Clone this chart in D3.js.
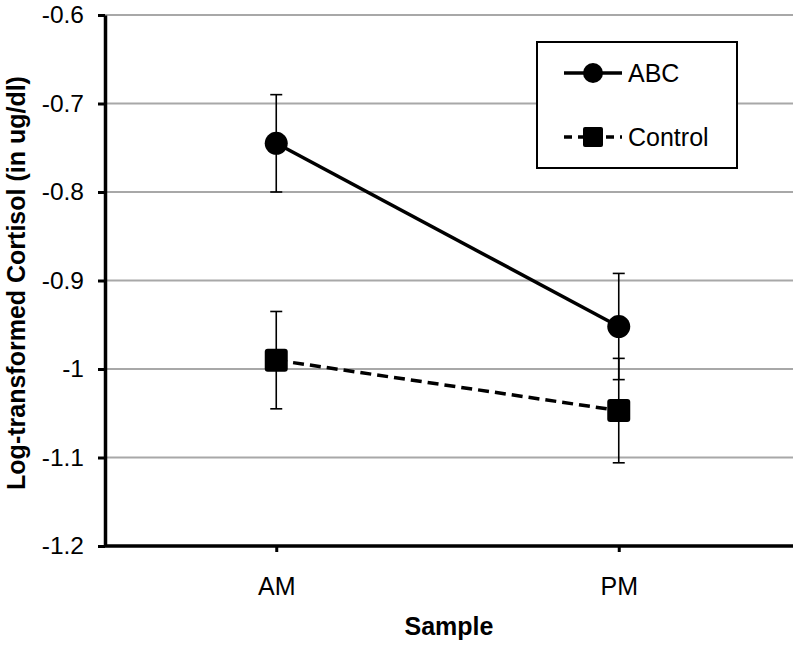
<!DOCTYPE html>
<html><head><meta charset="utf-8">
<script src="https://cdn.jsdelivr.net/npm/d3@7"></script>
<style>body{margin:0;background:#fff}svg{display:block}text{font-family:"Liberation Sans",Arial,sans-serif}</style>
</head><body>
<svg id="c" width="800" height="648"></svg>
<script>
const categories = ["AM", "PM"];
const abcMean = [-0.745, -0.952];
const abcErr = [0.055, 0.060];
const controlMean = [-0.990, -1.047];
const controlErr = [0.055, 0.059];
const yTicks = [-1.2, -1.1, -1.0, -0.9, -0.8, -0.7, -0.6];
const yTickLabels = ["-1.2", "-1.1", "-1", "-0.9", "-0.8", "-0.7", "-0.6"];
const seriesNames = ["ABC", "Control"];

const svg = d3.select("#c");
const L = 105, R = 790, T = 15, B = 546;
const x = d3.scalePoint().domain(categories).range([L, R]).padding(0.5);
const y = d3.scaleLinear().domain([-1.2, -0.6]).range([B, T]);

// gridlines
svg.append("g").selectAll("line").data(yTicks.filter(v => v > -1.2)).join("line")
  .attr("x1", L).attr("x2", R + 3).attr("y1", d => y(d)).attr("y2", d => y(d))
  .attr("stroke", "#a8a8a8").attr("stroke-width", 2);

// y axis
const ya = svg.append("g").attr("transform", `translate(${L},0)`)
  .call(d3.axisLeft(y).tickValues(yTicks).tickFormat((d, i) => yTickLabels[i]).tickSize(7).tickPadding(14).tickSizeOuter(0));
ya.select(".domain").attr("stroke-width", 3.5);
ya.selectAll(".tick line").attr("stroke-width", 3);
ya.selectAll("text").attr("font-size", 24.5).attr("fill", "#000");

// x axis
const xa = svg.append("g").attr("transform", `translate(0,${B})`)
  .call(d3.axisBottom(x).tickSize(6).tickPadding(25).tickSizeOuter(0));
xa.select(".domain").attr("d", `M${L},0H${R + 3}`).attr("stroke-width", 3.5);
xa.selectAll(".tick line").attr("stroke-width", 3);
xa.selectAll("text").attr("font-size", 25).attr("fill", "#000");

// axis titles
svg.append("text").attr("x", 449).attr("y", 635).attr("text-anchor", "middle")
  .attr("font-size", 25).attr("font-weight", "bold").text("Sample");
svg.append("text").attr("transform", "translate(25,283) rotate(-90)").attr("text-anchor", "middle")
  .attr("font-size", 25).attr("font-weight", "bold").text("Log-transformed Cortisol (in ug/dl)");

const series = [
  {mean: abcMean, err: abcErr, dash: null, shape: "circle"},
  {mean: controlMean, err: controlErr, dash: "11,6", shape: "square"}
];

// error bars
series.forEach(s => {
  const g = svg.append("g");
  categories.forEach((c, i) => {
    const cx = x(c), y1 = y(s.mean[i] + s.err[i]), y2 = y(s.mean[i] - s.err[i]);
    g.append("line").attr("x1", cx).attr("x2", cx).attr("y1", y1).attr("y2", y2).attr("stroke", "#000").attr("stroke-width", 1.6);
    [y1, y2].forEach(yy => g.append("line").attr("x1", cx - 6).attr("x2", cx + 6).attr("y1", yy).attr("y2", yy).attr("stroke", "#000").attr("stroke-width", 1.6));
  });
});

// lines and markers
const line = d3.line().x((d, i) => x(categories[i])).y(d => y(d));
series.forEach(s => {
  svg.append("path").attr("d", line(s.mean)).attr("fill", "none").attr("stroke", "#000")
    .attr("stroke-width", 3.5).attr("stroke-dasharray", s.dash);
  s.mean.forEach((v, i) => {
    if (s.shape === "circle") {
      svg.append("circle").attr("cx", x(categories[i])).attr("cy", y(v)).attr("r", 11.5).attr("fill", "#000");
    } else {
      svg.append("rect").attr("x", x(categories[i]) - 11.5).attr("y", y(v) - 11.5).attr("width", 23).attr("height", 23)
        .attr("rx", 3).attr("fill", "#000");
    }
  });
});

// legend
const lg = svg.append("g");
lg.append("rect").attr("x", 537).attr("y", 42).attr("width", 200).attr("height", 126)
  .attr("fill", "#fff").attr("stroke", "#000").attr("stroke-width", 2);
const rows = [73, 137];
series.forEach((s, i) => {
  const yy = rows[i];
  lg.append("line").attr("x1", 564).attr("x2", 622).attr("y1", yy).attr("y2", yy)
    .attr("stroke", "#000").attr("stroke-width", 3.5).attr("stroke-dasharray", s.dash ? "8,6" : null);
  if (s.shape === "circle") lg.append("circle").attr("cx", 593).attr("cy", yy).attr("r", 10).attr("fill", "#000");
  else lg.append("rect").attr("x", 583).attr("y", yy - 10).attr("width", 20).attr("height", 20).attr("rx", 2).attr("fill", "#000");
  lg.append("text").attr("x", 628).attr("y", yy + 9).attr("font-size", 25).text(seriesNames[i]);
});
</script>
</body></html>
